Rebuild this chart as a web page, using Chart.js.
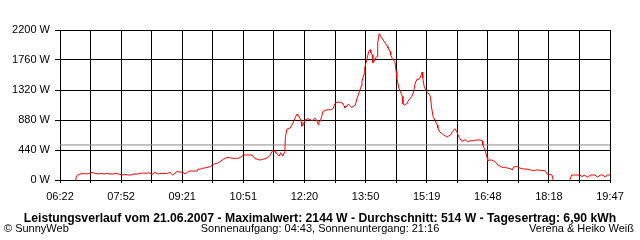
<!DOCTYPE html>
<html>
<head>
<meta charset="utf-8">
<script src="https://cdn.jsdelivr.net/npm/chart.js@4/dist/chart.umd.min.js"></script>
<style>
  html, body { margin: 0; padding: 0; background: #fff; }
</style>
</head>
<body>
<canvas id="powerChart" width="640" height="240"></canvas>
<script>
// DATA
// time of day in minutes after midnight, power in W
const times = [405, 406, 408, 411, 416, 420, 424, 429, 433, 438, 442, 446, 451, 455, 460, 464, 468, 473, 477, 482,
  486, 490, 495, 499, 503, 508, 512, 517, 521, 525, 530, 534, 539, 543, 547, 553, 558, 562, 565, 569,
  572, 578, 583, 584, 588, 591, 597, 602, 606, 612, 616, 621, 625, 628, 632, 635, 640, 643, 645, 648,
  650, 654, 659, 663, 667, 672, 675, 678, 682, 686, 689, 692, 694, 697, 698, 701, 703, 704, 705, 707,
  708, 710, 711, 712, 714, 719, 723, 726, 729, 730, 733, 735, 736, 738, 741, 745, 748, 751, 755, 758,
  760, 761, 763, 765, 767, 770, 773, 777, 780, 782, 785, 789, 792, 795, 798, 799, 802, 804, 806, 809,
  814, 817, 820, 823, 824, 827, 828, 831, 834, 836, 837, 839, 840, 843, 844, 846, 847, 849, 850, 853,
  856, 858, 861, 862, 865, 866, 869, 872, 874, 875, 878, 881, 883, 884, 887, 890, 891, 894, 897, 899,
  902, 905, 906, 909, 912, 913, 915, 918, 921, 924, 926, 928, 931, 934, 935, 938, 943, 946, 948, 953,
  957, 960, 963, 966, 970, 975, 979, 982, 987, 992, 997, 1000, 1001, 1004, 1007, 1008, 1011, 1014, 1019, 1023,
  1026, 1029, 1033, 1038, 1041, 1044, 1046, 1052, 1055, 1060, 1064, 1067, 1071, 1074, 1079, 1082, 1086, 1092, 1095, 1099,
  1102, 1104, 1115, 1128, 1131, 1137, 1143, 1146, 1149, 1155, 1158, 1165, 1169, 1172, 1177, 1180, 1183, 1187];
const watts = [0, 59, 73, 84, 98, 88, 95, 110, 98, 88, 98, 88, 95, 88, 88, 95, 88, 73, 81, 73,
  73, 88, 88, 95, 103, 98, 107, 81, 113, 88, 98, 95, 98, 110, 73, 122, 117, 113, 88, 117,
  132, 132, 132, 157, 161, 172, 183, 195, 230, 245, 268, 304, 323, 333, 323, 318, 318, 318, 330, 342,
  367, 367, 367, 367, 318, 301, 293, 301, 312, 330, 356, 411, 440, 418, 400, 367, 352, 381, 400, 367,
  352, 396, 415, 635, 744, 763, 836, 909, 968, 958, 909, 851, 788, 811, 884, 899, 887, 870, 909, 865,
  811, 851, 861, 934, 1008, 1019, 1031, 1031, 1031, 1056, 1129, 1144, 1137, 1129, 1085, 1056, 1085, 1115, 1093, 1066,
  1096, 1203, 1291, 1379, 1448, 1555, 1643, 1764, 1888, 1911, 1863, 1838, 1716, 1764, 1789, 1814, 2009, 2144, 2134, 2083,
  2039, 2009, 1961, 1936, 1892, 1838, 1764, 1741, 1594, 1496, 1349, 1276, 1228, 1115, 1096, 1129, 1154, 1188, 1228, 1276,
  1423, 1486, 1471, 1496, 1584, 1496, 1374, 1301, 1276, 1228, 1056, 934, 870, 811, 763, 704, 664, 645, 631, 656,
  714, 752, 704, 626, 568, 591, 557, 576, 576, 587, 587, 576, 513, 440, 333, 283, 293, 293, 268, 220,
  205, 186, 186, 172, 169, 147, 195, 195, 176, 161, 161, 157, 147, 136, 147, 147, 142, 136, 88, 81,
  73, 0, null, 0, 73, 73, 73, 48, 73, 40, 73, 73, 40, 73, 73, 40, 73, 73];
const averagePower = 514;

const xLabels = ["06:22", "07:52", "09:21", "10:51", "12:20", "13:50", "15:19", "16:48", "18:18", "19:47"];
const xStart = 382;  // 06:22
const xEnd = 1187;   // 19:47
const yMax = 2200;
const yStep = 440;

const titleText = "Leistungsverlauf vom 21.06.2007 - Maximalwert: 2144 W - Durchschnitt: 514 W - Tagesertrag: 6,90 kWh";
const copyrightText = "\u00A9 SunnyWeb";
const sunText = "Sonnenaufgang: 04:43, Sonnenuntergang: 21:16";
const authorText = "Verena & Heiko Weiß";

// CAPTIONS BELOW THE PLOT
const captionPlugin = {
  id: "captions",
  afterDraw(chart) {
    const ctx = chart.ctx;
    ctx.save();
    ctx.fillStyle = "#000";
    ctx.textBaseline = "alphabetic";
    ctx.font = "bold 12.2px 'Liberation Sans', Arial, sans-serif";
    ctx.textAlign = "center";
    ctx.fillText(titleText, 320, 222);
    ctx.font = "11px 'Liberation Sans', Arial, sans-serif";
    ctx.textAlign = "left";
    ctx.fillText(copyrightText, 4, 232);
    ctx.textAlign = "center";
    ctx.fillText(sunText, 320, 232);
    ctx.textAlign = "right";
    ctx.fillText(authorText, 634, 232);
    ctx.restore();
  },
};

const tickFont = { family: "'Liberation Sans', Arial, sans-serif", size: 11 };

new Chart(document.getElementById("powerChart"), {
  type: "line",
  data: {
    datasets: [
      {
        data: times.map((t, i) => ({ x: t, y: watts[i] })),
        borderColor: "#ff0000",
        borderWidth: 1,
        pointRadius: 0,
        tension: 0,
        spanGaps: false,
      },
      {
        data: [
          { x: xStart, y: averagePower },
          { x: xEnd, y: averagePower },
        ],
        borderColor: "#8c8c8c",
        borderWidth: 1,
        pointRadius: 0,
      },
    ],
  },
  options: {
    responsive: false,
    animation: false,
    events: [],
    layout: { padding: { top: 30, right: 30, left: 0, bottom: 0 } },
    plugins: { legend: { display: false }, tooltip: { enabled: false } },
    scales: {
      x: {
        type: "linear",
        min: xStart,
        max: xEnd,
        afterBuildTicks: (scale) => {
          const step = (xEnd - xStart) / 18;
          scale.ticks = Array.from({ length: 19 }, (_, i) => ({ value: xStart + i * step }));
        },
        afterFit: (scale) => { scale.height = 60; },
        grid: { color: "#000", lineWidth: 1, tickLength: 3 },
        border: { color: "#000", width: 1 },
        ticks: {
          autoSkip: false,
          maxRotation: 0,
          padding: 7,
          color: "#000",
          font: tickFont,
          callback: (value, index) => (index % 2 === 0 ? xLabels[index / 2] : ""),
        },
      },
      y: {
        min: 0,
        max: yMax,
        afterFit: (scale) => { scale.width = 60; },
        grid: { color: "#000", lineWidth: 1, tickLength: 5 },
        border: { color: "#000", width: 1 },
        ticks: {
          stepSize: yStep,
          padding: 5,
          color: "#000",
          font: tickFont,
          callback: (value) => value + " W",
        },
      },
    },
  },
  plugins: [captionPlugin],
});
</script>
</body>
</html>
